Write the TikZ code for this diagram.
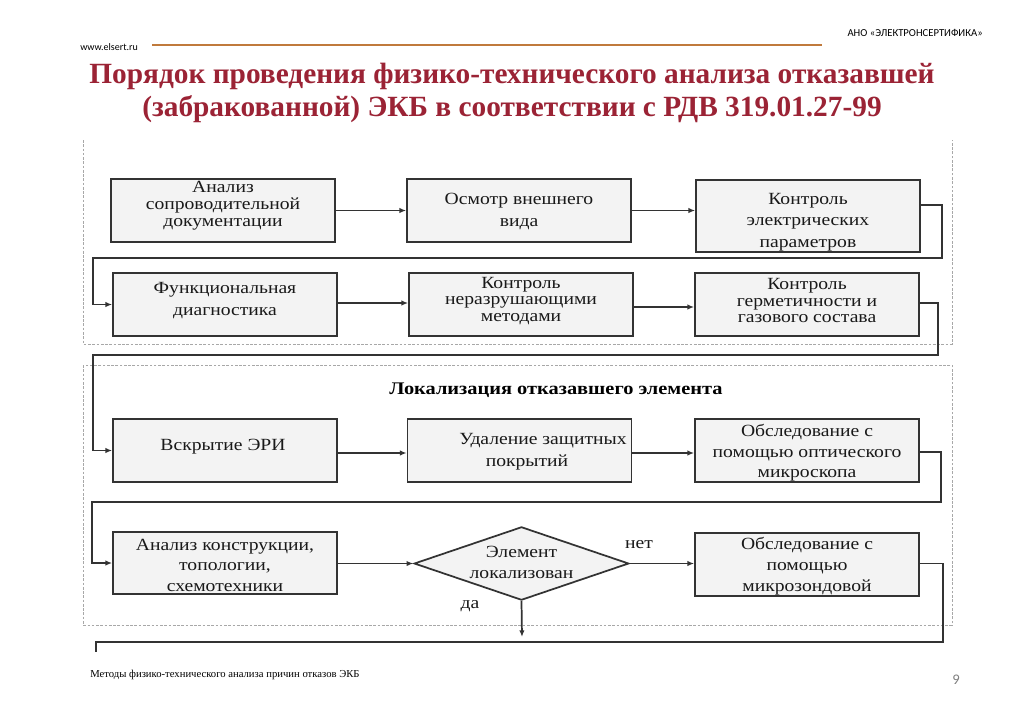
\documentclass[tikz,border=0pt]{standalone}
\usepackage{fontspec}
\setmainfont{Liberation Serif}
\newfontfamily\bfont[FakeStretch=1.15]{Liberation Serif}
\newfontfamily\carl{Carlito}
\usetikzlibrary{shapes.geometric,arrows.meta}
\definecolor{titlered}{HTML}{9B2335}
\definecolor{hdrline}{HTML}{C07A3C}
\definecolor{boxfill}{HTML}{F3F3F3}
\definecolor{ln}{HTML}{333333}
\definecolor{frm}{HTML}{A8A8A8}
\begin{document}
\begin{tikzpicture}[x=0.75pt,y=-0.75pt,
  box/.style={draw=ln,fill=boxfill,line width=1.3pt,inner sep=0pt,minimum width=168pt,minimum height=47.25pt},
  txt/.style={inner sep=0pt,align=center,text=black!90,font=\bfont\fontsize{12.8}{#1}\selectfont},
  txt/.default=16,
  conn/.style={draw=ln,line width=1.3pt},
  arr/.style={conn,-{Latex[length=5pt,width=4pt]}},
  frame/.style={draw=frm,line width=0.6pt,dash pattern=on 2pt off 1.2pt}]
\useasboundingbox[fill=white] (0,0) rectangle (1024,722);

% header
\node[anchor=east,inner sep=0pt,font=\carl\fontsize{8}{9}\selectfont] (org) at (983,33) {АНО «ЭЛЕКТРОНСЕРТИФИКА»};
\node[anchor=west,inner sep=0pt,font=\carl\fontsize{7.5}{9}\selectfont] (web) at (80,47) {www.elsert.ru};
\coordinate (hl1) at (152,45);
\coordinate (hl2) at (822,45);
\draw[hdrline,line width=1.5pt] (hl1) -- (hl2);
\node[inner sep=0pt,align=center,text=titlered,font=\bfseries\fontsize{22}{24.5}\selectfont] (title) at (512,93)
  {Порядок проведения физико-технического анализа отказавшей\\(забракованной) ЭКБ в соответствии с РДВ 319.01.27-99};

% frames
\draw[frame] (83,140) -- (83,344) -- (952,344) -- (952,140);
\draw[frame] (83,365) rectangle (952,625);
\node[inner sep=0pt,font=\bfont\bfseries\fontsize{13.3}{14}\selectfont] (ftitle) at (556,390) {Локализация отказавшего элемента};

% boxes
\node[box] (A) at (223,210.5) {};
\node[box] (B) at (519,210.5) {};
\node[box,minimum height=54pt] (C) at (808,216) {};
\node[box] (D) at (225,304.5) {};
\node[box] (E) at (521,304.5) {};
\node[box] (F) at (807,304.5) {};
\node[box] (G) at (225,450.5) {};
\node[box] (H) at (519.5,450.5) {};
\node[box] (I) at (807,450.5) {};
\node[box,minimum height=46.5pt] (J) at (225,563) {};
\node[draw=ln,fill=boxfill,line width=1.3pt,diamond,inner sep=0pt,minimum width=161pt,minimum height=55pt] (K) at (521.5,563.5) {};
\node[box] (L) at (807,564.5) {};

% box texts
\node[txt=12.6] (At) at (223,205.5) {Анализ\\сопроводительной\\документации};
\node[txt] (Bt) at (519,211.5) {Осмотр внешнего\\вида};
\node[txt=16] (Ct) at (808,222) {Контроль\\электрических\\параметров};
\node[txt=16.5] (Dt) at (225,300.5) {Функциональная\\диагностика};
\node[txt=12.4] (Et) at (521,301) {Контроль\\неразрушающими\\методами};
\node[txt=12.4] (Ft) at (807,300.5) {Контроль\\герметичности и\\газового состава};
\node[txt] (Gt) at (223,446.5) {Вскрытие ЭРИ};
\node[txt=16.5] (Ht) at (527,451.5) {\hspace*{24pt}Удаление защитных\\покрытий};
\node[txt=15.4] (It) at (807,453) {Обследование с\\помощью оптического\\микроскопа};
\node[txt=15.4] (Jt) at (225,565) {Анализ конструкции,\\топологии,\\схемотехники};
\node[txt=15.75] (Kt) at (521.5,562) {Элемент\\локализован};
\node[txt=15.75] (Lt) at (807,566.5) {Обследование с\\помощью\\микрозондовой};
\node[txt] (no) at (639,545) {нет};
\node[txt] (yes) at (470,606) {да};

% connectors
\draw[arr] (A.east) -- (B.west);
\draw[arr] (B.east) -- (B.east -| C.west);
\draw[arr] (C.east |- 0,205) -- (942,205) |- (93,258) |- (D.west);
\draw[arr] (D.east |- 0,303) -- (E.west |- 0,303);
\draw[arr] (E.east |- 0,307) -- (F.west |- 0,307);
\draw[arr] (F.east |- 0,303) -- (938,303) |- (93,355) |- (G.west);
\draw[arr] (G.east |- 0,453) -- (H.west |- 0,453);
\draw[arr] (H.east |- 0,453) -- (I.west |- 0,453);
\draw[arr] (I.east |- 0,452) -- (941,452) |- (92,502) |- (J.west);
\draw[arr] (J.east |- K.west) -- (K.west);
\draw[arr] (K.east) -- (K.east -| L.west);
\coordinate (kd) at (522,637);
\draw[arr] (K.south) -- (kd);
\coordinate (tail) at (96,652);
\draw[conn] (L.east |- K.east) -- (943,563.5) |- (96,642) -- (tail);

% footer
\node[anchor=west,inner sep=0pt,font=\fontsize{8}{9}\selectfont] (foot) at (90,675) {Методы физико-технического анализа причин отказов ЭКБ};
\node[inner sep=0pt,text=gray,font=\carl\fontsize{11}{12}\selectfont] (pg) at (956,680) {9};
\end{tikzpicture}
\end{document}
